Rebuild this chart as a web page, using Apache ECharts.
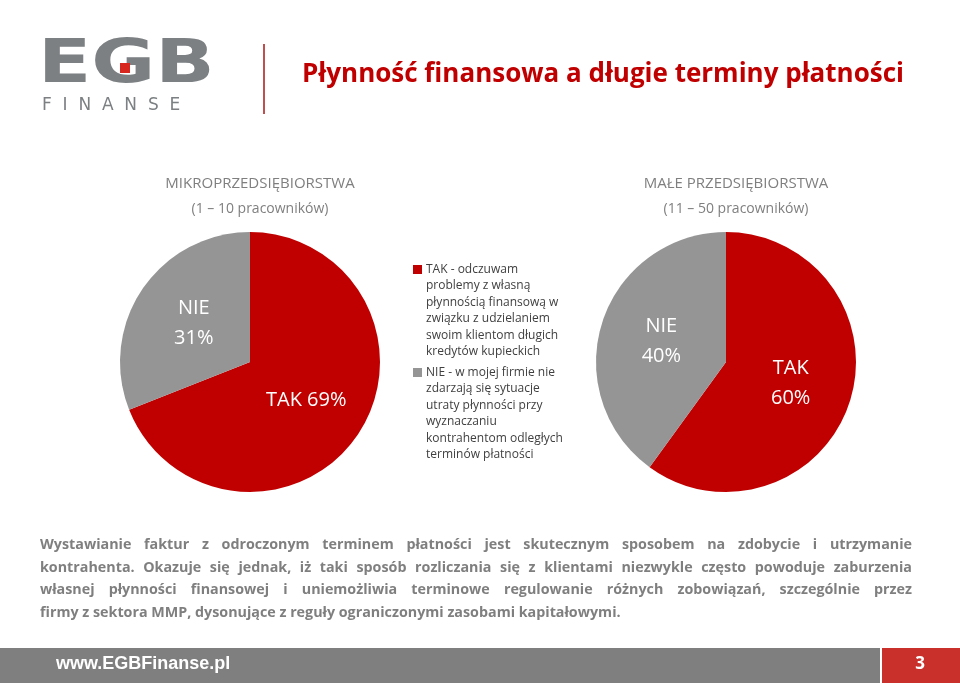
<!DOCTYPE html>
<html><head><meta charset="utf-8">
<script src="https://cdn.jsdelivr.net/npm/echarts@6/dist/echarts.min.js"></script>
<style>html,body{margin:0;padding:0;background:#fff}#main{width:960px;height:686px}</style>
</head><body><div id="main"></div>
<script>
var categories = ['TAK', 'NIE'];
var microValues = [69, 31];
var smallValues = [60, 40];
var colors = ['#C00000', '#959595'];
var paragraph = [
  'Wystawianie faktur z odroczonym terminem płatności jest skutecznym sposobem na zdobycie i utrzymanie',
  'kontrahenta. Okazuje się jednak, iż taki sposób rozliczania się z klientami niezwykle często powoduje zaburzenia',
  'własnej płynności finansowej i uniemożliwia terminowe regulowanie różnych zobowiązań, szczególnie przez',
  'firmy z sektora MMP, dysonujące z reguły ograniczonymi zasobami kapitałowymi.'
];
var legendTak = 'TAK - odczuwam\nproblemy z własną\npłynnością finansową w\nzwiązku z udzielaniem\nswoim klientom długich\nkredytów kupieckich';
var legendNie = 'NIE - w mojej firmie nie\nzdarzają się sytuacje\nutraty płynności przy\nwyznaczaniu\nkontrahentom odległych\nterminów płatności';

var myChart = echarts.init(document.getElementById('main'));
var font = '"Open Sans", sans-serif';

function pieData(vals, fmts) {
  return categories.map(function (c, i) {
    return {
      name: c, value: vals[i],
      itemStyle: { color: colors[i] },
      label: { formatter: fmts[i] }
    };
  });
}

var graphic = [
  // logo
  { type: 'text', x: 38, y: 36, scaleX: 1.3, style: { text: 'EGB', font: 'bold 60px "DejaVu Sans", sans-serif', fill: '#7c8083' } },
  { type: 'rect', shape: { x: 120, y: 63, width: 10, height: 10 }, style: { fill: '#d7261e' } },
  { type: 'text', left: 42, top: 97, style: { text: 'F  I  N  A  N  S  E', font: '17px "DejaVu Sans", sans-serif', fill: '#7c8083' } },
  { type: 'rect', shape: { x: 263, y: 44, width: 2, height: 70 }, style: { fill: '#c0504d' } },
  { type: 'text', left: 302, top: 62, style: { text: 'Płynność finansowa a długie terminy płatności', font: 'bold 26px ' + font, fill: '#C00000' } },
  // subtitles
  { type: 'text', x: 260, y: 176, style: { text: 'MIKROPRZEDSIĘBIORSTWA', textAlign: 'center', font: '15px ' + font, fill: '#7f7f7f' } },
  { type: 'text', x: 260, y: 202, style: { text: '(1 – 10 pracowników)', textAlign: 'center', font: '14px ' + font, fill: '#7f7f7f' } },
  { type: 'text', x: 736, y: 176, style: { text: 'MAŁE PRZEDSIĘBIORSTWA', textAlign: 'center', font: '15px ' + font, fill: '#7f7f7f' } },
  { type: 'text', x: 736, y: 202, style: { text: '(11 – 50 pracowników)', textAlign: 'center', font: '14px ' + font, fill: '#7f7f7f' } },
  // legend
  { type: 'rect', shape: { x: 413, y: 265, width: 9, height: 9 }, style: { fill: colors[0] } },
  { type: 'text', x: 426, y: 261, style: { text: legendTak, font: '12px ' + font, lineHeight: 16.5, fill: '#404040' } },
  { type: 'rect', shape: { x: 413, y: 368, width: 9, height: 9 }, style: { fill: colors[1] } },
  { type: 'text', x: 426, y: 364, style: { text: legendNie, font: '12px ' + font, lineHeight: 16.5, fill: '#404040' } },
  // footer
  { type: 'rect', shape: { x: 0, y: 648, width: 880, height: 35 }, style: { fill: '#7f7f7f' } },
  { type: 'rect', shape: { x: 882, y: 648, width: 78, height: 35 }, style: { fill: '#C9302C' } },
  { type: 'text', x: 56, y: 655, style: { text: 'www.EGBFinanse.pl', font: 'bold 18px "Liberation Sans Narrow", sans-serif', fill: '#fff' } },
  { type: 'text', x: 920, y: 656, style: { text: '3', textAlign: 'center', font: 'bold 17px ' + font, fill: '#fff' } }
];

// justified paragraph
var pFont = 'bold 14.3px ' + font;
var ctx = document.createElement('canvas').getContext('2d');
ctx.font = pFont;
paragraph.forEach(function (line, i) {
  var y = 538 + i * 22.5;
  var words = line.split(' ');
  var last = i === paragraph.length - 1;
  var total = 0;
  words.forEach(function (w) { total += ctx.measureText(w).width; });
  var gap = last ? ctx.measureText(' ').width : (912 - 40 - total) / (words.length - 1);
  var x = 40;
  words.forEach(function (w) {
    graphic.push({ type: 'text', x: x, y: y, style: { text: w, font: pFont, fill: '#7f7f7f' } });
    x += ctx.measureText(w).width + gap;
  });
});

var option = {
  animation: false,
  graphic: graphic,
  series: [
    {
      type: 'pie', center: [250, 362], radius: 130, startAngle: 90, clockwise: true,
      label: { position: 'inner', color: '#fff', fontSize: 20, fontFamily: font, lineHeight: 30 },
      labelLine: { show: false },
      data: pieData(microValues, ['TAK {d}%', 'NIE\n{d}%'])
    },
    {
      type: 'pie', center: [726, 362], radius: 130, startAngle: 90, clockwise: true,
      label: { position: 'inner', color: '#fff', fontSize: 20, fontFamily: font, lineHeight: 30 },
      labelLine: { show: false },
      data: pieData(smallValues, ['TAK\n{d}%', 'NIE\n{d}%'])
    }
  ]
};
myChart.setOption(option);
</script></body></html>
